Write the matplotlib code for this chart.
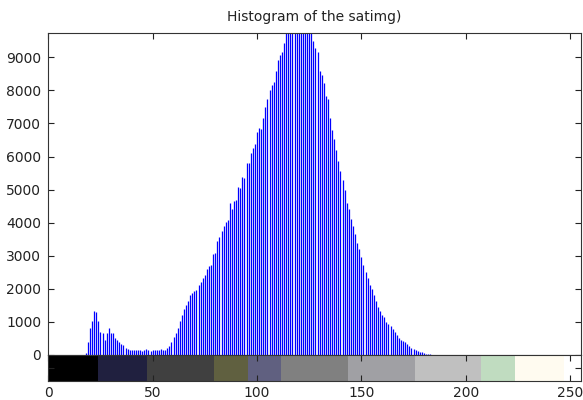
import matplotlib
matplotlib.use("Agg")
import matplotlib.pyplot as plt
import numpy as np

# histogram counts, gray levels 18..183 (all other levels are zero)
first_level = 18
counts = [
    50, 400, 830, 1020, 1320, 1290, 1020, 710, 680, 440,          # 18-27
    650, 830, 650, 650, 520, 450, 380, 330, 300, 220,             # 28-37
    180, 150, 150, 150, 160, 150, 150, 130, 140, 170,             # 38-47
    160, 130, 140, 150, 140, 160, 170, 150, 150, 200,             # 48-57
    280, 380, 540, 680, 820, 1020, 1200, 1380, 1520, 1620,        # 58-67
    1800, 1880, 1920, 1960, 2110, 2200, 2330, 2420, 2600, 2680,   # 68-77
    2730, 3060, 3080, 3440, 3560, 3760, 3900, 4030, 4080, 4580,   # 78-87
    4400, 4650, 4700, 5080, 5060, 5380, 5340, 5800, 5800, 6100,   # 88-97
    6250, 6370, 6735, 6855, 6825, 7160, 7490, 7740, 8010, 8160,   # 98-107
    8245, 8600, 8920, 9070, 9170, 9420, 9900, 10100, 10300, 10500,  # 108-117
    10600, 10700, 10650, 10600, 10500, 10300, 10150, 9950, 9800, 9500,  # 118-127
    9270, 9150, 8600, 8470, 8230, 7830, 7730, 7160, 6790, 6520,   # 128-137
    6200, 5850, 5570, 5280, 4980, 4600, 4400, 4100, 3900, 3650,   # 138-147
    3400, 3200, 2950, 2720, 2500, 2330, 2120, 2000, 1800, 1640,   # 148-157
    1460, 1340, 1220, 1140, 1000, 940, 880, 780, 700, 590,        # 158-167
    520, 460, 410, 380, 330, 270, 210, 180, 140, 110,             # 168-177
    100, 80, 55, 40, 30, 20,                                      # 178-183
]
levels = np.arange(first_level, first_level + len(counts))

# colormap strip under the histogram
bar_edges = [0, 24, 47.5, 79.5, 95.5, 111.5, 143.5, 175.5, 207.5, 223.5, 247, 255]
bar_colors = ["#000000", "#20203f", "#404040", "#606040", "#606080", "#808080",
              "#a0a0a4", "#c0c0c0", "#c0dcc0", "#fffbf0", "#ffffff"]

x_ticks = [0, 50, 100, 150, 200, 250]
y_ticks = [0, 1000, 2000, 3000, 4000, 5000, 6000, 7000, 8000, 9000]

W, H = 583, 400
fig = plt.figure(figsize=(W / 100, H / 100), dpi=100)
plt.rcParams["font.family"] = "DejaVu Sans"

left, right = 48.3 / W, 580.5 / W
ax = fig.add_axes([left, 1 - 355 / H, right - left, (355 - 33.3) / H])
cax = fig.add_axes([left, 1 - 381 / H, right - left, (381 - 355) / H])

ax.vlines(levels, 0, counts, color="#0000ff", lw=0.9)
ax.set_xlim(0, 255)
ax.set_ylim(0, 9725)
ax.set_xticks(x_ticks)
ax.set_xticklabels([])
ax.set_yticks(y_ticks)
ax.tick_params(direction="in", length=4, top=True, right=True, bottom=False,
               labelsize=10, colors="#222222", pad=5)
ax.set_title("Histogram of the satimg)", fontsize=10, pad=9, color="#222222")

for a, b, c in zip(bar_edges[:-1], bar_edges[1:], bar_colors):
    cax.axvspan(a, b, color=c, lw=0)
cax.set_xlim(0, 255)
cax.set_ylim(0, 1)
cax.set_xticks(x_ticks)
cax.set_yticks([0.5])
cax.set_yticklabels([])
cax.tick_params(direction="in", length=4, top=True, right=True,
                labelsize=10, colors="#222222", pad=3.5)

for a in (ax, cax):
    for s in a.spines.values():
        s.set_color("#333333")
        s.set_linewidth(0.8)

fig.savefig("out.png", dpi=100)
